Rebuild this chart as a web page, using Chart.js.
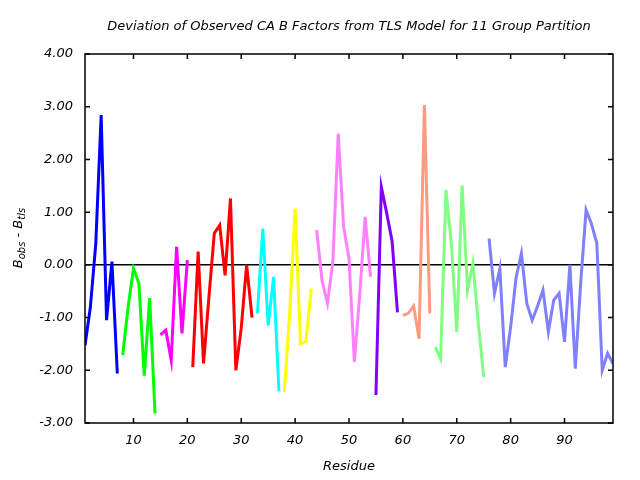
<!DOCTYPE html>
<html><head><meta charset="utf-8">
<script src="https://cdn.jsdelivr.net/npm/chart.js@4/dist/chart.umd.min.js"></script>
<style>html,body{margin:0;padding:0;background:#fff;}canvas{display:block;}</style>
</head><body>
<canvas id="c" width="640" height="480"></canvas>
<script>
const titleText = "Deviation of Observed CA B Factors from TLS Model for 11 Group Partition";
const xTitle = "Residue";
const xTicks = [10, 20, 30, 40, 50, 60, 70, 80, 90];
const yTicks = [-3, -2, -1, 0, 1, 2, 3, 4];
const groupStarts = [1, 8, 15, 21, 33, 38, 44, 55, 60, 66, 76];
const groupColors = ["#0000FF", "#00FF00", "#FF00FF", "#FF0000", "#00FFFF", "#FFFF00",
                     "#FF80FF", "#8000FF", "#FF9980", "#80FF80", "#8080FF"];
const g1 = [-1.53, -0.80, 0.40, 2.84, -1.05, 0.06, -2.06];
const g2 = [-1.71, -0.80, -0.07, -0.35, -2.10, -0.63, -2.82];
const g3 = [-1.33, -1.24, -1.81, 0.34, -1.30, 0.09];
const g4 = [-1.94, 0.25, -1.87, -0.61, 0.60, 0.75, -0.20, 1.26, -2.00, -1.20, 0.00, -1.00];
const g5 = [-0.92, 0.69, -1.15, -0.23, -2.40];
const g6 = [-2.41, -0.90, 1.07, -1.50, -1.45, -0.45];
const g7 = [0.66, -0.30, -0.73, 0.05, 2.49, 0.72, 0.12, -1.84, -0.55, 0.91, -0.23];
const g8 = [-2.47, 1.48, 0.98, 0.45, -0.90];
const g9 = [-0.96, -0.92, -0.78, -1.40, 3.03, -0.92];
const g10 = [-1.56, -1.78, 1.42, 0.40, -1.27, 1.51, -0.48, 0.03, -1.11, -2.13];
const g11 = [0.50, -0.54, -0.07, -1.94, -1.18, -0.25, 0.22, -0.73, -1.05, -0.78, -0.48, -1.27,
             -0.67, -0.54, -1.46, 0.00, -1.97, -0.35, 1.04, 0.78, 0.41, -2.00, -1.68, -1.87];
const groups = [g1, g2, g3, g4, g5, g6, g7, g8, g9, g10, g11];

const FONT = "'DejaVu Sans', sans-serif";

const datasets = groups.map((vals, i) => ({
  data: vals.map((v, j) => ({ x: groupStarts[i] + j, y: v })),
  borderColor: groupColors[i],
  borderWidth: 3,
  pointRadius: 0,
  pointHoverRadius: 0,
  fill: false,
  tension: 0
}));

const decor = {
  id: 'decor',
  beforeDatasetsDraw(chart) {
    const { ctx, chartArea: a, scales: { y } } = chart;
    ctx.save();
    const y0 = y.getPixelForValue(0);
    ctx.strokeStyle = '#000';
    ctx.lineWidth = 1.5;
    ctx.beginPath();
    ctx.moveTo(a.left, y0); ctx.lineTo(a.right, y0);
    ctx.stroke();
    ctx.restore();
  },
  afterDatasetsDraw(chart) {
    const { ctx, chartArea: a, scales: { x, y } } = chart;
    ctx.save();
    ctx.strokeStyle = '#000';
    ctx.lineWidth = 1.5;
    ctx.strokeRect(a.left, a.top, a.right - a.left, a.bottom - a.top);
    ctx.beginPath();
    const tl = 5;
    xTicks.forEach(v => {
      const px = x.getPixelForValue(v);
      ctx.moveTo(px, a.bottom); ctx.lineTo(px, a.bottom - tl);
      ctx.moveTo(px, a.top); ctx.lineTo(px, a.top + tl);
    });
    yTicks.forEach(v => {
      const py = y.getPixelForValue(v);
      ctx.moveTo(a.left, py); ctx.lineTo(a.left + tl, py);
      ctx.moveTo(a.right, py); ctx.lineTo(a.right - tl, py);
    });
    ctx.stroke();
    ctx.fillStyle = '#000';
    ctx.textAlign = 'center';
    ctx.textBaseline = 'middle';
    ctx.font = "italic 13px " + FONT;
    ctx.fillText(titleText, (a.left + a.right) / 2, 27);
    ctx.fillText(xTitle, (a.left + a.right) / 2, 467);
    ctx.translate(18, 238);
    ctx.rotate(-Math.PI / 2);
    const parts = [["B", 13, 0], ["obs", 10, 3], [" - ", 13, 0], ["B", 13, 0], ["tls", 10, 3]];
    let total = 0;
    parts.forEach(p => { ctx.font = "italic " + p[1] + "px " + FONT; total += ctx.measureText(p[0]).width; });
    let cx = -total / 2;
    ctx.textAlign = 'left';
    ctx.textBaseline = 'alphabetic';
    parts.forEach(p => {
      ctx.font = "italic " + p[1] + "px " + FONT;
      ctx.fillText(p[0], cx, 4 + p[2]);
      cx += ctx.measureText(p[0]).width;
    });
    ctx.restore();
  }
};

new Chart(document.getElementById('c'), {
  type: 'line',
  data: { datasets },
  options: {
    responsive: false,
    animation: false,
    devicePixelRatio: 1,
    layout: { padding: { top: 54, right: 27, left: 0, bottom: 0 } },
    plugins: { legend: { display: false }, title: { display: false }, tooltip: { enabled: false } },
    scales: {
      x: {
        type: 'linear', min: 1, max: 99,
        afterFit: s => { s.height = 57; },
        afterBuildTicks: s => { s.ticks = xTicks.map(v => ({ value: v })); },
        grid: { display: false, drawTicks: false },
        border: { display: false },
        ticks: { padding: 10, color: '#000', font: { family: FONT, size: 13, style: 'italic' }, maxRotation: 0,
                 callback: v => String(v) }
      },
      y: {
        type: 'linear', min: -3, max: 4,
        afterFit: s => { s.width = 85; },
        afterBuildTicks: s => { s.ticks = yTicks.map(v => ({ value: v })); },
        grid: { display: false, drawTicks: false },
        border: { display: false },
        ticks: { padding: 12, color: '#000', font: { family: FONT, size: 13, style: 'italic' },
                 callback: v => Number(v).toFixed(2) }
      }
    }
  },
  plugins: [decor]
});
</script>
</body></html>
